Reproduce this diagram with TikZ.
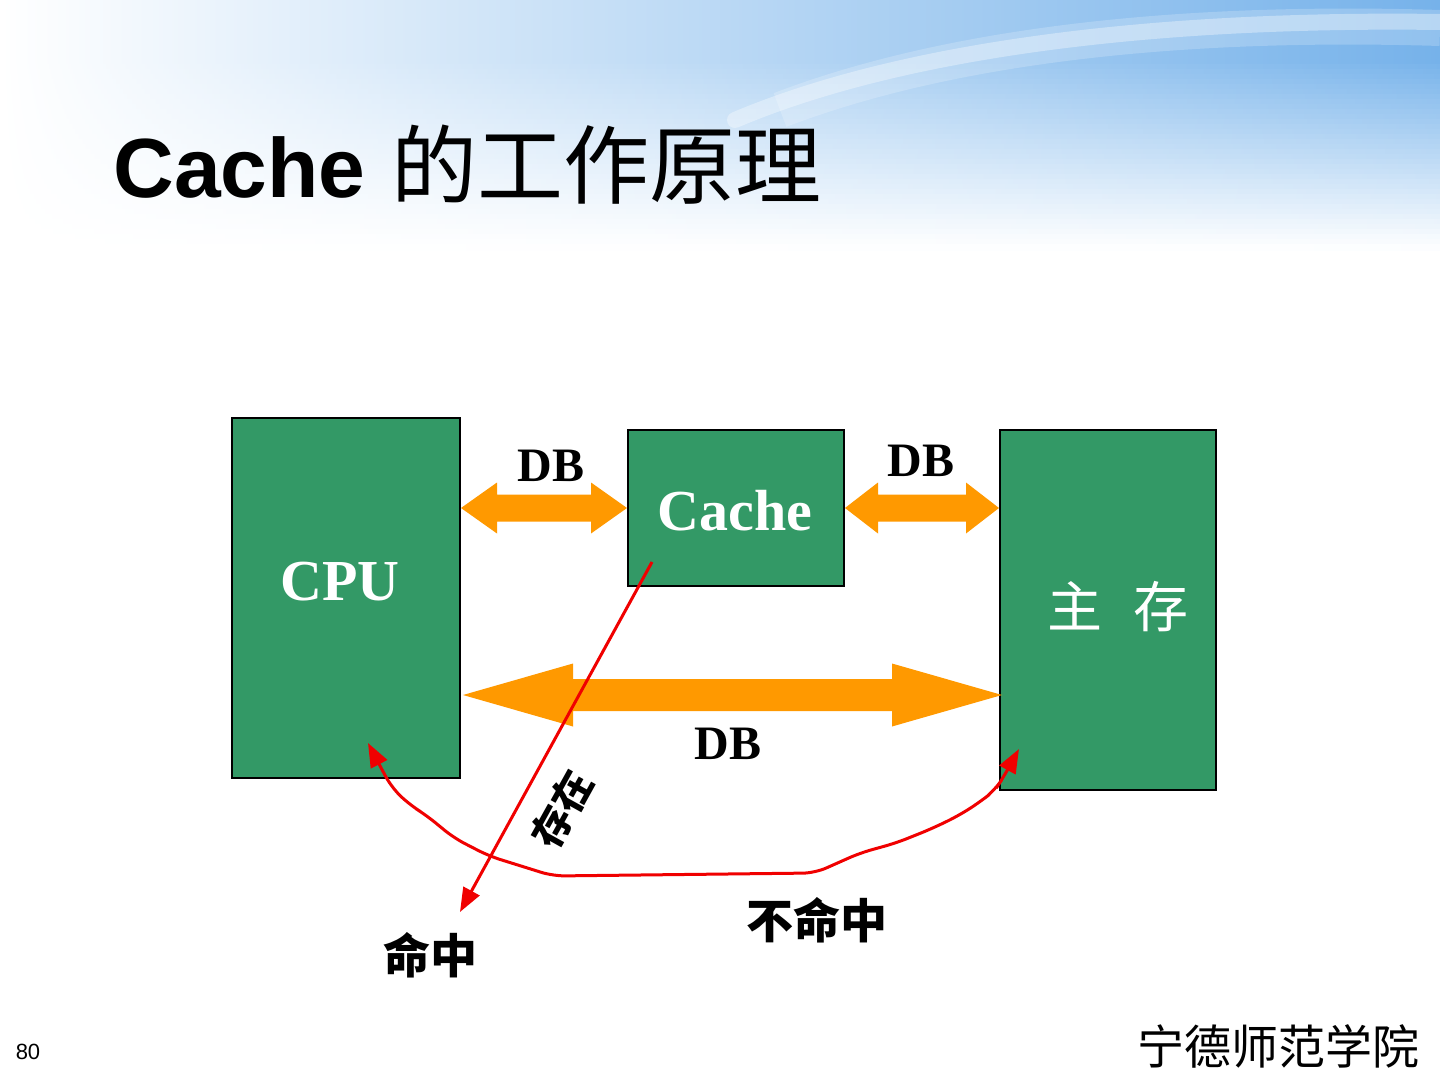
\documentclass[tikz,border=0pt]{standalone}
\usepackage{fontspec}
\setmainfont{Liberation Serif}
\setsansfont{Liberation Sans}
\newfontfamily\cjk{Noto Sans CJK SC}
\usetikzlibrary{arrows.meta,calc}
\definecolor{boxgreen}{RGB}{51,153,102}
\definecolor{busorange}{RGB}{255,153,0}
\definecolor{bgblue}{RGB}{118,178,234}
\definecolor{hitred}{RGB}{240,0,0}
\tikzset{
  box/.style={draw=black, line width=1pt, fill=boxgreen, inner sep=0pt},
  boxlbl/.style={text=white, font=\bfseries\fontsize{29}{29}\selectfont, inner sep=0pt},
  dblbl/.style={font=\bfseries\fontsize{24}{24}\selectfont, inner sep=0pt},
  cjklbl/.style={font=\cjk\bfseries\fontsize{23.5}{23.5}\selectfont, inner sep=0pt},
  busfill/.style={fill=busorange},
  redln/.style={draw=hitred, line width=1.5pt},
  redtip/.style={-{Triangle[length=12pt,width=9pt]}},
}
% #1 left tip, #2 right tip, #3 head length, #4 head half width, #5 shaft half width
\newcommand\busarrow[5]{%
  \fill[busfill] (#1) -- ($(#1)+(#3,-#4)$) -- ($(#1)+(#3,-#5)$) -- ($(#2)+(-#3,-#5)$)
    -- ($(#2)+(-#3,-#4)$) -- (#2) -- ($(#2)+(-#3,#4)$) -- ($(#2)+(-#3,#5)$)
    -- ($(#1)+(#3,#5)$) -- ($(#1)+(#3,#4)$) -- cycle;}
\begin{document}
\begin{tikzpicture}[x=0.5pt,y=-0.5pt]
\useasboundingbox (0,0) rectangle (1440,1080);
\fill[white] (0,0) rectangle (1440,1080);
% background gradient
\foreach \i in {0,...,49} {
  \pgfmathtruncatemacro\p{min(100,max(0,(250-\i*5)/1.9))}
  \shade[left color=white, right color=bgblue!\p] (0,\i*5) rectangle (1440,\i*5+6);
}
\draw[white, opacity=0.35, line width=8pt, line cap=round] (735,120) .. controls (900,50) and (1150,18) .. (1440,22);
\draw[white, opacity=0.2, line width=18pt] (780,110) .. controls (950,45) and (1180,20) .. (1440,28);

% title
\node[anchor=base west, inner sep=0pt] (title) at (113,198)
  {\sffamily\bfseries\fontsize{42}{42}\selectfont Cache\hspace{13pt}{\cjk\mdseries\fontsize{43}{43}\selectfont 的工作原理}};

% boxes
\node[box, minimum width=114pt, minimum height=180pt] (cpu) at (346,598) {};
\node[box, minimum width=108pt, minimum height=78pt] (cache) at (736,508) {};
\node[box, minimum width=108pt, minimum height=180pt] (mem) at (1108,610) {};

\node[boxlbl] (cputxt) at (340,582) {CPU};
\node[boxlbl] (cachetxt) at (735,511) {Cache};
\node[text=white, inner sep=0pt, font=\cjk\fontsize{27.5}{27.5}\selectfont] (memtxt) at (1118,607) {主\hspace{16pt}存};

% buses
\coordinate (s1L) at (cpu.east |- cache.west);
\coordinate (s2R) at (mem.west |- cache.east);
\busarrow{s1L}{cache.west}{36}{25.5}{13.5}
\busarrow{cache.east}{s2R}{33}{25.5}{13.5}
\coordinate (bigy) at (0,695);
\coordinate (bL) at ($(cpu.east |- bigy)+(2,0)$);
\coordinate (bR) at ($(mem.west |- bigy)+(3,0)$);
\busarrow{bL}{bR}{110}{31.5}{16}

\node[dblbl] (db1) at (551,466) {DB};
\node[dblbl] (db2) at (921,461) {DB};
\node[dblbl] (db3) at (728,744) {DB};

% hit path
\coordinate (hs) at (652,562);
\coordinate (he) at (460,912);
\draw[redln, redtip] (hs) -- (he);
\node[rotate=61, font=\cjk\bfseries\fontsize{20}{20}\selectfont, inner sep=0pt] (exist) at (562,809) {存在};

% miss path
\coordinate (missL) at (368,743);
\coordinate (missR) at (1019,749);
\draw[redln, rounded corners=6pt, {Triangle[length=12pt,width=9pt]}-{Triangle[length=12pt,width=9pt]}]
  (missL) -- (380,766) -- (392,788) -- (410,805) -- (426,815) -- (454,838) -- (489,856) -- (553,876)
  -- (815,873) -- (860,853) -- (896,843) -- (931,829) -- (958,816) -- (980,802) -- (995,790) -- (1003,778) -- (missR);

\node[cjklbl] (hit) at (430,955) {命中};
\node[cjklbl] (miss) at (817,920) {不命中};

% footer
\node[inner sep=0pt, font=\sffamily\fontsize{11}{11}\selectfont] (page) at (28,1052) {80};
\node[inner sep=0pt, font=\cjk\fontsize{23.5}{23.5}\selectfont] (school) at (1278,1046) {宁德师范学院};
\end{tikzpicture}
\end{document}
